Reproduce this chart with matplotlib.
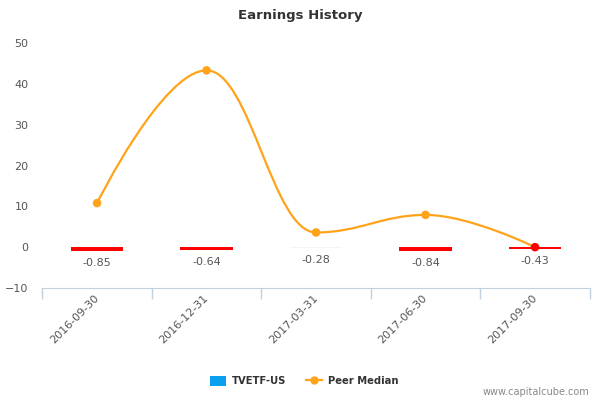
import numpy as np
import matplotlib
matplotlib.use('Agg')
from matplotlib import pyplot as plt
from matplotlib.path import Path
from matplotlib.patches import PathPatch, Patch
from matplotlib.lines import Line2D

dates = ['2016-09-30', '2016-12-31', '2017-03-31', '2017-06-30', '2017-09-30']
eps = [-0.85, -0.64, -0.28, -0.84, -0.43]
bar_colors = ['#ff0000', '#ff0000', '#f4f4f4', '#ff0000', '#ff0000']
peer_median = [10.8, 43.3, 3.6, 7.9, 0.0]
peer_colors = ['#ffa31a', '#ffa31a', '#ffa31a', '#ffa31a', '#ff0000']

ORANGE = '#ffa31a'
BLUE = '#0aa0f0'
TXT = '#555555'


def spline_path(xs, ys, smoothing=1.5):
    # highcharts-style spline: bezier control points per point
    denom = smoothing + 1
    n = len(xs)
    left = [(xs[i], ys[i]) for i in range(n)]
    right = [(xs[i], ys[i]) for i in range(n)]
    for i in range(1, n - 1):
        lx = (smoothing * xs[i] + xs[i - 1]) / denom
        ly = (smoothing * ys[i] + ys[i - 1]) / denom
        rx = (smoothing * xs[i] + xs[i + 1]) / denom
        ry = (smoothing * ys[i] + ys[i + 1]) / denom
        corr = ((ry - ly) * (rx - xs[i])) / (rx - lx) + ys[i] - ry
        ly += corr
        ry += corr
        if ly > ys[i - 1] and ly > ys[i]:
            ly = max(ys[i - 1], ys[i])
            ry = 2 * ys[i] - ly
        elif ly < ys[i - 1] and ly < ys[i]:
            ly = min(ys[i - 1], ys[i])
            ry = 2 * ys[i] - ly
        if ry > ys[i + 1] and ry > ys[i]:
            ry = max(ys[i + 1], ys[i])
            ly = 2 * ys[i] - ry
        elif ry < ys[i + 1] and ry < ys[i]:
            ry = min(ys[i + 1], ys[i])
            ly = 2 * ys[i] - ry
        left[i] = (lx, ly)
        right[i] = (rx, ry)
    verts = [(xs[0], ys[0])]
    codes = [Path.MOVETO]
    for i in range(1, n):
        verts += [right[i - 1], left[i], (xs[i], ys[i])]
        codes += [Path.CURVE4] * 3
    return Path(verts, codes)


fig = plt.figure(figsize=(6, 4), dpi=100)
ax = fig.add_axes([0.0705, 0.28, 0.9125, 0.6125])

x = np.arange(len(dates))
ax.bar(x, eps, width=0.48, color=bar_colors, zorder=2)
for xi, v in zip(x, eps):
    ax.annotate('{:.2f}'.format(v), (xi, v), xytext=(0, -5), textcoords='offset points',
                ha='center', va='top', fontsize=8, color=TXT)

ax.add_patch(PathPatch(spline_path(list(x), peer_median), fill=False,
                       edgecolor=ORANGE, lw=1.6, zorder=3))
ax.scatter(x, peer_median, s=38, color=peer_colors, zorder=4, linewidths=0)

ax.set_xlim(-0.5, len(dates) - 0.5)
ax.set_ylim(-10, 50)
ax.set_yticks([-10, 0, 10, 20, 30, 40, 50])
ax.tick_params(axis='y', length=0, labelsize=8, labelcolor=TXT, pad=10)
ax.set_xticks(x)
ax.set_xticklabels(dates, rotation=45, ha='right', va='center',
                   rotation_mode='anchor', fontsize=8, color=TXT)
ax.set_xticks(np.arange(-0.5, len(dates)), minor=True)
ax.tick_params(axis='x', which='major', length=0, pad=6)
ax.tick_params(axis='x', which='minor', length=8, color='#c0d0e0', width=1)
for s in ['top', 'right', 'left']:
    ax.spines[s].set_visible(False)
ax.spines['bottom'].set_color('#c0d0e0')

fig.text(0.5, 0.96, 'Earnings History', ha='center', va='center',
         fontsize=9.5, fontweight='bold', color='#333333')

handles = [Patch(facecolor=BLUE, edgecolor='none'),
           Line2D([], [], color=ORANGE, lw=1.6, marker='o', markersize=5)]
leg = fig.legend(handles, ['TVETF-US', 'Peer Median'], loc='center', ncol=2,
                 bbox_to_anchor=(0.507, 0.048), frameon=False,
                 prop={'size': 7.2, 'weight': 'bold'}, handlelength=1.6,
                 handleheight=1.2, columnspacing=2.0, handletextpad=0.6)
for t in leg.get_texts():
    t.set_color('#333333')

fig.text(0.983, 0.02, 'www.capitalcube.com', ha='right', va='center',
         fontsize=7, color='#888888')

fig.savefig('out.png', dpi=100)
